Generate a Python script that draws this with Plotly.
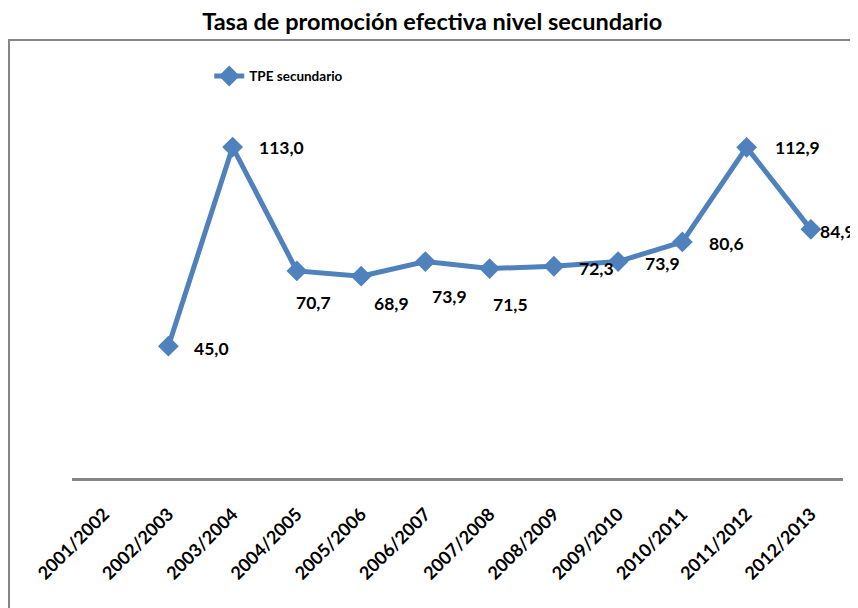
import plotly.graph_objects as go

years = ["2001/2002", "2002/2003", "2003/2004", "2004/2005", "2005/2006", "2006/2007",
         "2007/2008", "2008/2009", "2009/2010", "2010/2011", "2011/2012", "2012/2013"]
tpe = [None, 45.0, 113.0, 70.7, 68.9, 73.9, 71.5, 72.3, 73.9, 80.6, 112.9, 84.9]

# label offsets (px) per point, hand placed like the original
label_shift = [None, (43, -2), (49, 0), (17, -32), (30, -27), (24, -35), (21, -36),
               (43, -2), (44, -2), (44, -2), (51, 0), (27, -2)]

BLUE = "#4F81BD"
GREY = "#868686"
FONT = "Lato"

fig = go.Figure()
fig.add_trace(go.Scatter(
    x=years, y=tpe, mode="lines+markers", name="TPE secundario",
    line=dict(color=BLUE, width=5),
    marker=dict(symbol="diamond", size=16, color=BLUE),
    connectgaps=False,
))

for yr, v, sh in zip(years, tpe, label_shift):
    if v is None:
        continue
    fig.add_annotation(
        x=yr, y=v, text=f"{v:.1f}".replace(".", ","), showarrow=False,
        xshift=sh[0], yshift=sh[1],
        font=dict(family=FONT, size=17.5, color="black", weight="bold"),
    )

# outer chart border (extends past the right/bottom edge as in the source)
fig.add_shape(type="rect", xref="paper", yref="paper",
              x0=-0.0817, x1=1.2, y0=-0.6, y1=1.068,
              line=dict(color=GREY, width=2), layer="below")

# page body adds an 8px margin, so the figure is 850x600
fig.update_layout(
    width=850, height=600,
    margin=dict(l=64, r=15, t=60, b=130),
    paper_bgcolor="white", plot_bgcolor="white",
    font=dict(family=FONT, color="black"),
    title=dict(text="<b>Tasa de promoción efectiva nivel secundario</b>",
               x=0.499, xanchor="center", y=0.977, yanchor="middle",
               font=dict(family=FONT, size=23.5, color="black")),
    showlegend=True,
    legend=dict(x=0.178, y=0.98, xanchor="left", yanchor="middle",
                orientation="h", bgcolor="rgba(0,0,0,0)",
                font=dict(family=FONT, size=13.5, color="black", weight="bold")),
)
fig.update_xaxes(
    range=[-0.5, 11.5],
    showline=True, linecolor=GREY, linewidth=2.5, showgrid=False, ticks="",
    tickangle=-45, ticklabelstandoff=16, automargin=False,
    tickfont=dict(family=FONT, size=18, color="black", weight="bold"),
)
fig.update_yaxes(range=[0, 140], visible=False, showgrid=False, zeroline=False,
                 automargin=False)

fig.write_html("out.html")
